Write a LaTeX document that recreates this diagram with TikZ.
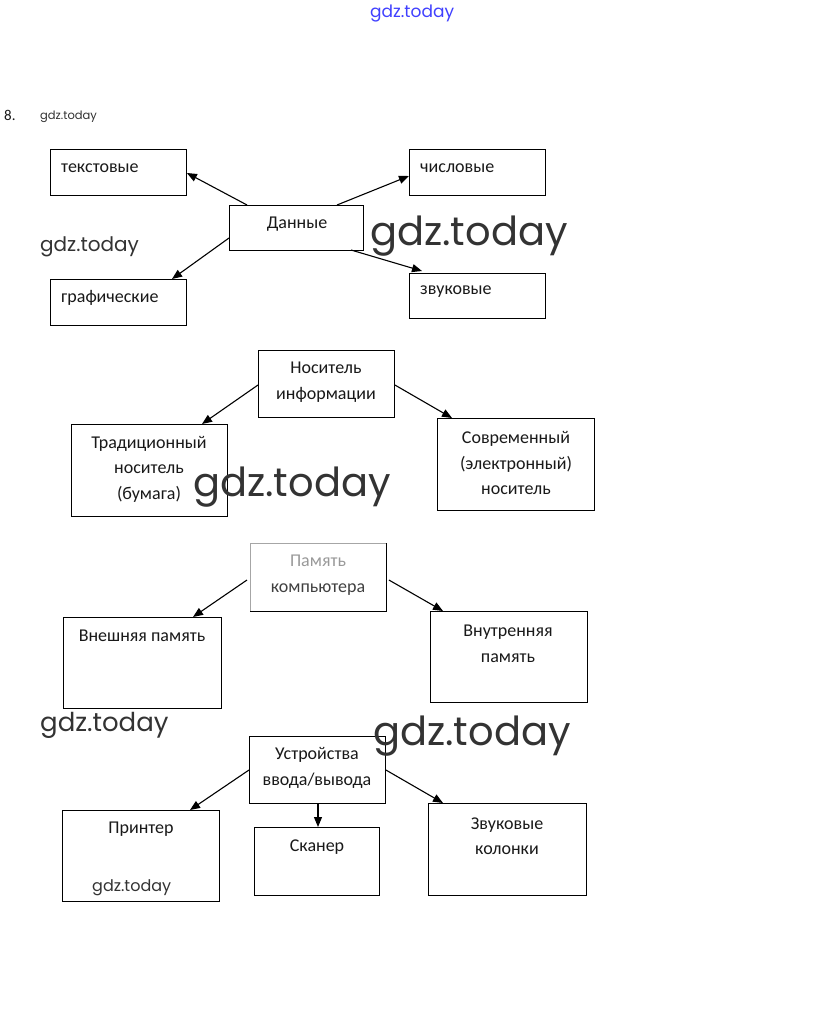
\documentclass[tikz,border=0pt]{standalone}
\usepackage{fontspec}
\setmainfont{Carlito}
\newfontfamily\wmfont{Poppins}
\usetikzlibrary{arrows.meta,calc}
\tikzset{
  bx/.style={draw=black, line width=0.9pt, inner sep=0pt, anchor=north west},
  tx/.style={font=\fontsize{18}{25.5}\selectfont, align=center, inner sep=0pt, text=black!90},
  wm/.style={font=\wmfont, inner sep=0pt, anchor=base west, text=black!80},
  arr/.style={line width=1.1pt, -{Triangle[length=10pt,width=8pt]}},
}
\begin{document}
\begin{tikzpicture}[x=1pt,y=-1pt]
\useasboundingbox[fill=white] (0,0) rectangle (823,1022);

% header
\node[wm, text=blue!75!white, font=\wmfont\fontsize{17}{17}\selectfont] (wtop) at (370,18) {gdz.today};
\node[tx, anchor=base west, font=\fontsize{15}{15}\selectfont] (num) at (4,121) {8.};
\node[wm, font=\wmfont\fontsize{11.5}{12}\selectfont] (wsmall) at (40,120) {gdz.today};

% group 1
\node[bx, minimum width=136pt, minimum height=46pt] (tekst) at (50,149) {};
\node[bx, minimum width=136pt, minimum height=46pt] (chisl) at (409,149) {};
\node[bx, minimum width=134pt, minimum height=45pt] (dannye) at (229,205) {};
\node[bx, minimum width=136pt, minimum height=46pt] (graf) at (50,279) {};
\node[bx, minimum width=136pt, minimum height=45pt] (zvuk) at (409,273) {};
\node[tx, anchor=west] (ttekst) at (61,168) {текстовые};
\node[tx, anchor=west] (tchisl) at (420,168) {числовые};
\node[tx] (tdannye) at (297,224) {Данные};
\node[tx, anchor=west] (tgraf) at (61,298) {графические};
\node[tx, anchor=west] (tzvuk) at (420,292) {звуковые};

\draw[arr] ($(dannye.north west)+(18,0)$) -- ($(tekst.north east)+(0,24)$);
\draw[arr] ($(dannye.north west)+(108,0)$) -- ($(chisl.north west)+(0,27)$);
\draw[arr] ($(dannye.north west)+(0,33)$) -- ($(graf.north west)+(122,0)$);
\draw[arr] ($(dannye.north west)+(122,45)$) -- ($(zvuk.north west)+(13,-2)$);

% group 2
\node[bx, minimum width=136pt, minimum height=67pt] (nos) at (258,350) {};
\node[bx, minimum width=156pt, minimum height=92pt] (trad) at (71,424) {};
\node[bx, minimum width=157pt, minimum height=92pt] (sovr) at (437,418) {};
\node[tx] (tnos) at (326,382) {Носитель\\информации};
\node[tx] (ttrad) at (149,469) {Традиционный\\носитель\\(бумага)};
\node[tx] (tsovr) at (516,463) {Современный\\(электронный)\\носитель};

\draw[arr] ($(nos.north west)+(0,35)$) -- ($(trad.north west)+(131,0)$);
\draw[arr] ($(nos.north east)+(0,35)$) -- ($(sovr.north west)+(15,0)$);

% group 3
\node[bx, draw=black!35, minimum width=136pt, minimum height=68pt] (pam) at (250,543) {};
\draw[line width=0.9pt] (pam.north east) -- (pam.south east) -- (pam.south west);
\node[bx, minimum width=158pt, minimum height=91pt] (vnesh) at (63,617) {};
\node[bx, minimum width=157pt, minimum height=91pt] (vnutr) at (430,611) {};
\node[tx] (tpam) at (318,575) {\textcolor{black!40}{Память}\\\textcolor{black!75}{компьютера}};
\node[tx] (tvnesh) at (142,636) {Внешняя память};
\node[tx] (tvnutr) at (508,644) {Внутренняя\\память};

\draw[arr] ($(pam.north west)+(-3,37)$) -- ($(vnesh.north west)+(130,0)$);
\draw[arr] ($(pam.north east)+(2,37)$) -- ($(vnutr.north west)+(13,0)$);

% group 4
\node[bx, minimum width=136pt, minimum height=67pt] (ustr) at (249,736) {};
\node[bx, minimum width=157pt, minimum height=91pt] (print) at (62,810) {};
\node[bx, minimum width=125pt, minimum height=68pt] (scan) at (254,827) {};
\node[bx, minimum width=158pt, minimum height=92pt] (kolon) at (428,803) {};
\node[tx] (tustr) at (317,768) {Устройства\\ввода/вывода};
\node[tx] (tprint) at (141,829) {Принтер};
\node[tx] (tscan) at (317,847) {Сканер};
\node[tx] (tkolon) at (507,836) {Звуковые\\колонки};

\draw[arr] ($(ustr.north west)+(0,34)$) -- ($(print.north west)+(128,0)$);
\draw[arr] ($(ustr.south west)+(69,0)$) -- ($(scan.north west)+(64,0)$);
\draw[arr] ($(ustr.north east)+(0,34)$) -- ($(kolon.north west)+(15,0)$);

% watermarks
\node[wm, font=\wmfont\fontsize{40}{40}\selectfont] (wbig1) at (370,245) {gdz.today};
\node[wm, font=\wmfont\fontsize{20}{20}\selectfont] (wmed1) at (40,251) {gdz.today};
\node[wm, font=\wmfont\fontsize{40}{40}\selectfont] (wbig2) at (193,496) {gdz.today};
\node[wm, font=\wmfont\fontsize{26}{26}\selectfont] (wmed2) at (40,731) {gdz.today};
\node[wm, font=\wmfont\fontsize{40}{40}\selectfont] (wbig3) at (373,745) {gdz.today};
\node[wm, font=\wmfont\fontsize{16}{16}\selectfont] (wsm2) at (92,891) {gdz.today};
\end{tikzpicture}
\end{document}
